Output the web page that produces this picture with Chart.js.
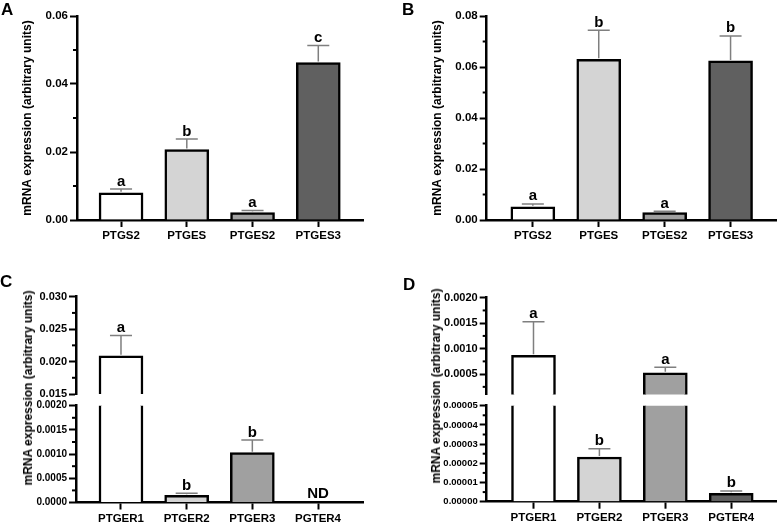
<!DOCTYPE html>
<html>
<head>
<meta charset="utf-8">
<script src="https://cdn.jsdelivr.net/npm/chart.js@4.4.1/dist/chart.umd.min.js"></script>
<style>
  body { margin: 0; background: #fff; }
  #wrap { position: relative; width: 778px; height: 522px; overflow: hidden; background: #fff; }
  canvas { position: absolute; }
  .panel { position: absolute; font: bold 17px "Liberation Sans", Arial, sans-serif; line-height: 17px; }
  .ytitle { position: absolute; font: bold 12px "Liberation Sans", Arial, sans-serif; white-space: nowrap;
            transform: translate(-50%, -50%) rotate(-90deg); }
</style>
</head>
<body>
<div id="wrap">
  <canvas id="chartA" width="389" height="260" style="left:0;top:0"></canvas>
  <canvas id="chartB" width="389" height="260" style="left:389px;top:0"></canvas>
  <canvas id="chartCtop" width="389" height="150" style="left:0;top:260px"></canvas>
  <canvas id="chartCbot" width="389" height="142" style="left:0;top:380px"></canvas>
  <canvas id="chartDtop" width="389" height="150" style="left:389px;top:260px"></canvas>
  <canvas id="chartDbot" width="389" height="142" style="left:389px;top:380px"></canvas>
  <div class="panel" style="left:1px;top:1px">A</div>
  <div class="panel" style="left:402px;top:1px">B</div>
  <div class="panel" style="left:0;top:273px">C</div>
  <div class="panel" style="left:403px;top:276px">D</div>
  <div class="ytitle" style="left:27.5px;top:388px">mRNA expression (arbitrary units)</div>
  <div class="ytitle" style="left:436px;top:386px">mRNA expression (arbitrary units)</div>
</div>
<script>
// panel A
const genesA = ["PTGS2", "PTGES", "PTGES2", "PTGES3"];
const meanA = [0.0080, 0.0207, 0.0022, 0.0463];
const semA = [0.0011, 0.0031, 0.0006, 0.0050];
const lettersA = ["a", "b", "a", "c"];
const yTicksA = ["0.00", "0.02", "0.04", "0.06"];

// panel B
const genesB = ["PTGS2", "PTGES", "PTGES2", "PTGES3"];
const meanB = [0.0052, 0.0630, 0.0029, 0.0624];
const semB = [0.0011, 0.0114, 0.0005, 0.0098];
const lettersB = ["a", "b", "a", "b"];
const yTicksB = ["0.00", "0.02", "0.04", "0.06", "0.08"];

// panel C (broken axis, PGTER4 not detected)
const genesC = ["PTGER1", "PTGER2", "PTGER3", "PGTER4"];
const meanC = [0.0209, 0.00015, 0.00103, null];
const semC = [0.0031, 0.00004, 0.00026, null];
const lettersC = ["a", "b", "b", "ND"];
const yTicksCTop = ["0.015", "0.020", "0.025", "0.030"];
const yTicksCBot = ["0.0000", "0.0005", "0.0010", "0.0015", "0.0020"];

// panel D (broken axis)
const genesD = ["PTGER1", "PTGER2", "PTGER3", "PGTER4"];
const meanD = [0.00087, 0.0000233, 0.000525, 0.0000044];
const semD = [0.00066, 0.0000043, 0.00011, 0.0000012];
const lettersD = ["a", "b", "a", "b"];
const yTicksDTop = ["0.0005", "0.0010", "0.0015", "0.0020"];
const yTicksDBot = ["0.00000", "0.00001", "0.00002", "0.00003", "0.00004", "0.00005"];

const FILLS = ["#ffffff", "#d4d4d4", "#a0a0a0", "#606060"];
const FONT = '"Liberation Sans", Arial, sans-serif';
Chart.defaults.font.family = FONT;
Chart.defaults.color = "#000";

function extras(p, minor) {
    return {
        id: "extras",
        afterDatasetsDraw(chart) {
            const ctx = chart.ctx;
            const x = chart.scales.x, y = chart.scales.y;
            const left = chart.chartArea.left;
            ctx.save();
            // minor ticks
            ctx.strokeStyle = "#000";
            ctx.lineWidth = 2;
            minor.forEach(m => {
                const py = y.getPixelForValue(m);
                ctx.beginPath();
                ctx.moveTo(left - 4, py);
                ctx.lineTo(left, py);
                ctx.stroke();
            });
            // error bars + letters
            ctx.textAlign = "center";
            ctx.textBaseline = "alphabetic";
            ctx.fillStyle = "#000";
            p.mean.forEach((m, i) => {
                const px = x.getPixelForValue(i);
                if (m === null) {
                    if (p.letters[i] && y.min === 0) {
                        ctx.font = "bold 15px " + FONT;
                        ctx.fillText(p.letters[i], px, y.getPixelForValue(0) - 5);
                    }
                    return;
                }
                if (m < y.min || m > y.max) return;
                const py0 = y.getPixelForValue(m);
                const py1 = y.getPixelForValue(m + p.sem[i]);
                ctx.strokeStyle = "#7f7f7f";
                ctx.lineWidth = 1.5;
                ctx.beginPath();
                ctx.moveTo(px, py0 - 1);
                ctx.lineTo(px, py1);
                ctx.moveTo(px - 11, py1);
                ctx.lineTo(px + 11, py1);
                ctx.stroke();
                ctx.font = "bold 15px " + FONT;
                ctx.fillText(p.letters[i], px, py1 - 3.5);
            });
            ctx.restore();
        }
    };
}

function barChart(id, p) {
    const tickVals = p.yTicks.map(Number);
    const step = tickVals[1] - tickVals[0];
    const seen = new Set(tickVals.map(v => v.toFixed(10)));
    const minor = [];
    tickVals.forEach(t => {
        [t - step / 2, t + step / 2].forEach(m => {
            const k = m.toFixed(10);
            if (m >= p.yMin - step / 100 && m <= p.yMax + step / 100 && !seen.has(k)) {
                seen.add(k);
                minor.push(m);
            }
        });
    });

    return new Chart(document.getElementById(id), {
        type: "bar",
        data: {
            datasets: [{
                data: p.mean.map((v, i) => ({ x: i, y: v })),
                backgroundColor: FILLS,
                borderColor: "#000",
                borderWidth: 2.5,
                borderSkipped: "start",
                barThickness: 44,
                clip: 0
            }]
        },
        options: {
            responsive: false,
            animation: false,
            events: [],
            layout: { padding: p.pad },
            plugins: { legend: { display: false }, tooltip: { enabled: false } },
            scales: {
                x: {
                    type: "linear",
                    display: p.showX,
                    min: p.xMin,
                    max: p.xMax,
                    offset: false,
                    afterBuildTicks: s => { s.ticks = p.genes.map((g, i) => ({ value: i })); },
                    afterFit: s => { if (p.showX) s.height = p.xH; },
                    ticks: {
                        autoSkip: false,
                        maxRotation: 0,
                        padding: 2,
                        font: { size: 11.5, weight: "bold" },
                        color: "#000",
                        callback: v => p.genes[Math.round(v)]
                    },
                    grid: { offset: false, drawOnChartArea: false, tickLength: 7, tickWidth: 2, tickColor: "#000" },
                    border: { color: "#000", width: 2.5 }
                },
                y: {
                    min: p.yMin,
                    max: p.yMax,
                    afterBuildTicks: s => { s.ticks = tickVals.map(v => ({ value: v })); },
                    afterFit: s => { s.width = p.yW; },
                    ticks: {
                        autoSkip: false,
                        padding: 2,
                        font: { size: p.tickSize, weight: "bold" },
                        color: "#000",
                        callback: (v, i) => p.yTicks[i]
                    },
                    grid: { drawOnChartArea: false, tickLength: 7, tickWidth: 2, tickColor: "#000" },
                    border: { color: "#000", width: 2.5 },
                    title: {
                        display: !!p.titlePad,
                        text: "mRNA expression (arbitrary units)",
                        font: { size: 12, weight: "bold" },
                        color: "#000",
                        padding: { top: p.titlePad || 0, bottom: 0 }
                    }
                }
            }
        },
        plugins: [extras(p, minor)]
    });
}

document.addEventListener("DOMContentLoaded", () => {
    barChart("chartA", {
        genes: genesA, mean: meanA, sem: semA, letters: lettersA, yTicks: yTicksA,
        yMin: 0, yMax: 0.06, xMin: -0.67, xMax: 3.68, showX: true, tickSize: 11.5,
        pad: { left: 0, right: 26, top: 16, bottom: 0 }, yW: 77, xH: 40, titlePad: 20
    });
    barChart("chartB", {
        genes: genesB, mean: meanB, sem: semB, letters: lettersB, yTicks: yTicksB,
        yMin: 0, yMax: 0.08, xMin: -0.70, xMax: 3.70, showX: true, tickSize: 11.5,
        pad: { left: 0, right: 1.3, top: 16, bottom: 0 }, yW: 97.7, xH: 40, titlePad: 41
    });
    barChart("chartCtop", {
        genes: genesC, mean: meanC, sem: semC, letters: lettersC, yTicks: yTicksCTop,
        yMin: 0.015, yMax: 0.030, xMin: -0.685, xMax: 3.685, showX: false, tickSize: 11,
        pad: { left: 0, right: 26, top: 36.7, bottom: 16 }, yW: 76
    });
    barChart("chartCbot", {
        genes: genesC, mean: meanC, sem: semC, letters: lettersC, yTicks: yTicksCBot,
        yMin: 0, yMax: 0.002, xMin: -0.685, xMax: 3.685, showX: true, tickSize: 10,
        pad: { left: 0, right: 26, top: 25.7, bottom: 0 }, yW: 76, xH: 19.5
    });
    barChart("chartDtop", {
        genes: genesD, mean: meanD, sem: semD, letters: lettersD, yTicks: yTicksDTop,
        yMin: 0.0001, yMax: 0.002, xMin: -0.71, xMax: 3.69, showX: false, tickSize: 11,
        pad: { left: 0, right: 1.3, top: 37.7, bottom: 15.5 }, yW: 97.7
    });
    barChart("chartDbot", {
        genes: genesD, mean: meanD, sem: semD, letters: lettersD, yTicks: yTicksDBot,
        yMin: 0, yMax: 0.00005, xMin: -0.71, xMax: 3.69, showX: true, tickSize: 9.5,
        pad: { left: 0, right: 1.3, top: 25.7, bottom: 0 }, yW: 97.7, xH: 20.3
    });
});
</script>
</body>
</html>
